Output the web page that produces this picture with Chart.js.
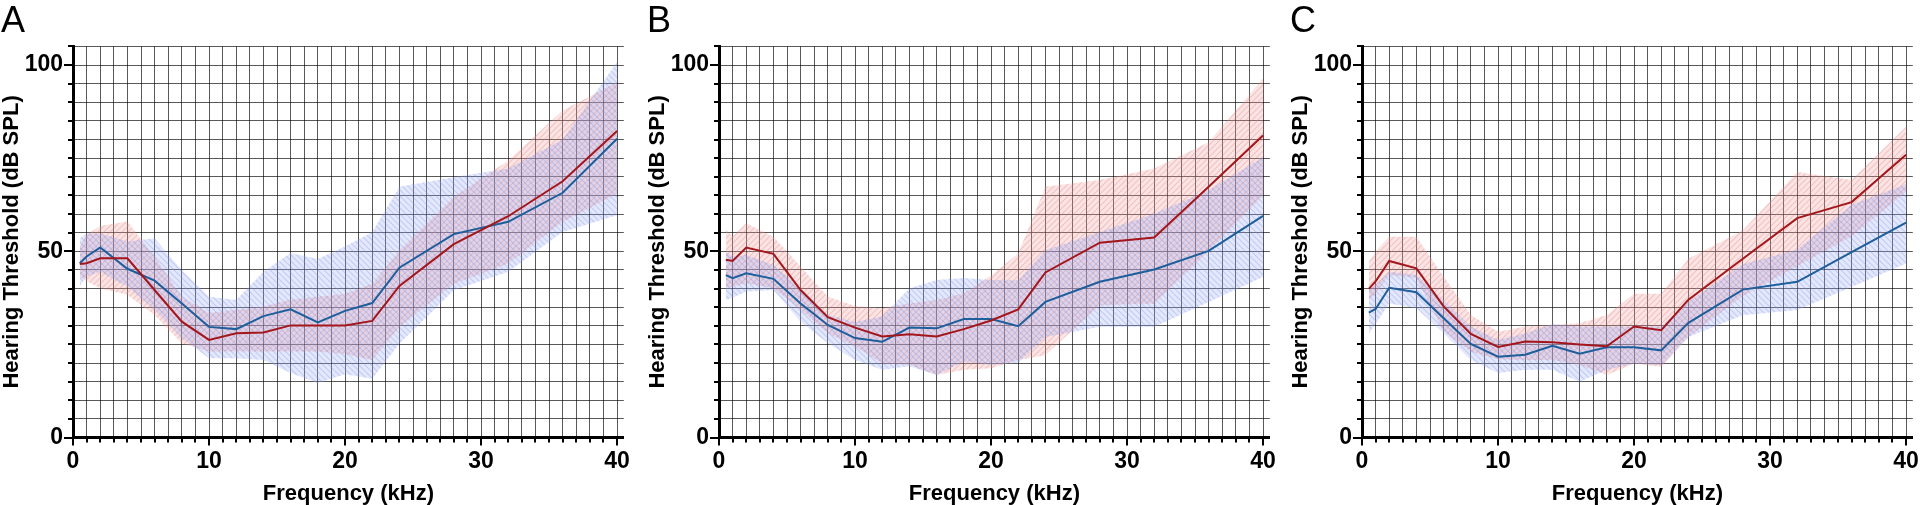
<!DOCTYPE html>
<html>
<head>
<meta charset="utf-8">
<script src="https://cdn.jsdelivr.net/npm/chart.js@4.4.1/dist/chart.umd.min.js"></script>
<style>
  html, body { margin: 0; padding: 0; background: #fff; overflow: hidden; width: 1920px; height: 505px; }
  body { position: relative; }
  canvas { position: absolute; top: 0; }
</style>
</head>
<body>
<canvas id="chartA" width="640" height="505" style="left:0px"></canvas>
<canvas id="chartB" width="640" height="505" style="left:646px"></canvas>
<canvas id="chartC" width="640" height="505" style="left:1289px"></canvas>
<script>
// frequencies (kHz)
const freqs = [0.5, 1, 2, 4, 6, 8, 10, 12, 14, 16, 18, 20, 22, 24, 28, 32, 36, 40];

// panel A
const redMeanA  = [46.6, 46.8, 48.1, 48.1, 39.6, 31.1, 26.2, 28.0, 28.2, 30.1, 30.1, 30.1, 31.3, 40.7, 51.9, 59.4, 68.8, 82.3];
const redHiA    = [51.3, 54.5, 56.8, 58.0, 48.5, 37.8, 33.4, 34.3, 35.2, 37.0, 37.8, 38.5, 41.3, 50.3, 64.6, 74.4, 87.8, 95.4];
const redLoA    = [43.2, 42.0, 40.1, 38.3, 32.9, 25.3, 23.1, 23.1, 23.1, 23.1, 23.1, 22.4, 20.8, 29.7, 41.3, 46.7, 57.9, 65.5];
const blueMeanA = [46.8, 48.6, 51.0, 45.3, 42.1, 36.0, 29.7, 29.1, 32.6, 34.4, 30.9, 34.0, 36.1, 45.6, 54.6, 57.9, 65.7, 80.2];
const blueHiA   = [53.5, 54.8, 54.8, 52.6, 53.5, 45.0, 37.8, 36.9, 44.5, 49.5, 47.9, 51.3, 55.2, 67.3, 69.9, 72.2, 80.0, 100.8];
const blueLoA   = [40.7, 43.2, 44.5, 40.5, 34.3, 26.7, 21.3, 21.3, 20.8, 17.3, 14.6, 17.0, 15.8, 25.2, 39.5, 44.5, 55.2, 59.7];

// panel B
const redMeanB  = [47.7, 47.4, 51.0, 49.3, 39.6, 32.3, 29.5, 27.1, 27.7, 27.1, 29.1, 31.4, 34.4, 44.3, 52.3, 53.7, 67.3, 81.1];
const redHiB    = [55.7, 54.0, 57.5, 53.9, 45.9, 37.8, 35.3, 34.7, 36.0, 36.9, 38.7, 43.5, 49.4, 67.3, 69.1, 72.2, 79.3, 96.3];
const redLoB    = [40.1, 40.5, 41.4, 40.1, 34.3, 28.0, 24.4, 19.9, 19.5, 16.8, 18.2, 18.6, 20.8, 22.1, 35.5, 36.0, 50.0, 65.0];
const blueMeanB = [43.6, 42.8, 44.1, 42.6, 36.0, 30.2, 26.7, 25.7, 29.5, 29.3, 31.8, 31.8, 29.9, 36.4, 41.8, 45.1, 50.1, 59.5];
const blueHiB   = [49.9, 48.5, 49.0, 46.3, 40.1, 32.9, 31.0, 32.5, 40.1, 42.3, 42.8, 42.3, 42.2, 50.3, 55.2, 60.1, 66.4, 75.3];
const blueLoB   = [36.9, 37.5, 39.2, 39.6, 31.1, 25.3, 20.8, 18.2, 19.1, 16.8, 20.4, 19.5, 20.0, 27.0, 29.7, 29.7, 36.4, 43.1];

// panel C
const redMeanC  = [39.9, 41.9, 47.4, 45.4, 35.2, 27.8, 24.3, 25.8, 25.6, 25.0, 24.5, 29.8, 28.8, 37.0, 48.0, 58.9, 63.2, 75.9];
const redHiC    = [47.2, 50.0, 53.9, 53.9, 43.2, 32.9, 28.4, 29.8, 30.2, 30.7, 32.9, 38.6, 38.6, 48.0, 55.6, 71.3, 69.1, 83.4];
const redLoC    = [36.9, 38.5, 43.6, 42.8, 28.5, 23.0, 21.0, 20.8, 20.8, 19.5, 16.8, 19.9, 19.0, 27.0, 38.0, 46.0, 54.0, 66.0];
const blueMeanC = [33.5, 34.5, 40.2, 39.0, 32.0, 25.1, 21.7, 22.2, 24.6, 22.5, 24.2, 24.2, 23.4, 30.8, 39.7, 41.8, 49.8, 57.7];
const blueHiC   = [39.6, 41.0, 44.5, 43.6, 36.9, 29.8, 26.2, 28.0, 30.5, 29.8, 29.8, 29.8, 29.8, 36.5, 46.5, 50.5, 62.5, 68.0];
const blueLoC   = [28.0, 30.5, 36.0, 34.7, 28.0, 20.8, 17.3, 18.2, 18.2, 15.0, 18.2, 19.9, 19.4, 27.0, 32.8, 34.2, 40.4, 46.7];

const yTickLabels = [0, 50, 100];
const xTickLabels = [0, 10, 20, 30, 40];

const RED = '#a3161c';
const BLUE = '#1d5e9b';
const GRID = 'rgba(0,0,0,0.65)';
const FONT = '"Liberation Sans", Arial, sans-serif';

function hatch(bg, line, dir) {
  const c = document.createElement('canvas');
  c.width = 6; c.height = 6;
  const g = c.getContext('2d');
  g.fillStyle = bg;
  g.fillRect(0, 0, 6, 6);
  g.strokeStyle = line;
  g.lineWidth = 1.2;
  g.beginPath();
  if (dir > 0) {
    g.moveTo(-1, 7); g.lineTo(7, -1);
    g.moveTo(-1, 1); g.lineTo(1, -1);
    g.moveTo(5, 7); g.lineTo(7, 5);
  } else {
    g.moveTo(-1, -1); g.lineTo(7, 7);
    g.moveTo(-1, 5); g.lineTo(1, 7);
    g.moveTo(5, -1); g.lineTo(7, 1);
  }
  g.stroke();
  return g.createPattern(c, 'repeat');
}

const pts = arr => freqs.map((f, i) => ({ x: f, y: arr[i] }));

// every kHz on x, every 5 dB on y
const stepTicks = (from, to, step) => {
  const out = [];
  for (let v = from; v <= to; v += step) out.push({ value: v });
  return out;
};

const tickMarks = {
  id: 'tickMarks',
  afterDraw(chart) {
    const { ctx, chartArea, scales } = chart;
    ctx.save();
    ctx.strokeStyle = '#000';
    ctx.lineWidth = 2;
    ctx.beginPath();
    scales.x.ticks.forEach(t => {
      const px = Math.round(scales.x.getPixelForValue(t.value));
      const len = xTickLabels.includes(t.value) ? 8 : 5;
      ctx.moveTo(px, chartArea.bottom);
      ctx.lineTo(px, chartArea.bottom + len);
    });
    scales.y.ticks.forEach(t => {
      const py = Math.round(scales.y.getPixelForValue(t.value));
      const len = yTickLabels.includes(t.value) ? 9 : 5;
      ctx.moveTo(chartArea.left, py);
      ctx.lineTo(chartArea.left - len, py);
    });
    ctx.stroke();
    // panel letter
    ctx.fillStyle = '#000';
    ctx.font = '36px ' + FONT;
    ctx.textBaseline = 'alphabetic';
    ctx.textAlign = 'left';
    ctx.fillText(chart.options.plugins.tickMarks.letter, 1, 32);
    ctx.restore();
  }
};

function makePanel(id, letter, redMean, redHi, redLo, blueMean, blueHi, blueLo) {
  const redFill = hatch('rgba(240,150,150,0.26)', 'rgba(225,115,115,0.3)', 1);
  const blueFill = hatch('rgba(150,165,240,0.26)', 'rgba(115,140,235,0.3)', -1);
  new Chart(document.getElementById(id), {
    type: 'line',
    data: {
      datasets: [
        { data: pts(redMean), borderColor: RED, borderWidth: 2, pointRadius: 0, fill: false, order: 0 },
        { data: pts(blueMean), borderColor: BLUE, borderWidth: 2, pointRadius: 0, fill: false, order: 0 },
        { data: pts(blueHi), borderWidth: 0, pointRadius: 0, backgroundColor: blueFill, fill: '+1', order: 1 },
        { data: pts(blueLo), borderWidth: 0, pointRadius: 0, fill: false, order: 1 },
        { data: pts(redHi), borderWidth: 0, pointRadius: 0, backgroundColor: redFill, fill: '+1', order: 2 },
        { data: pts(redLo), borderWidth: 0, pointRadius: 0, fill: false, order: 2 }
      ]
    },
    options: {
      responsive: false,
      devicePixelRatio: 1,
      animation: false,
      layout: { padding: { top: 46.4, right: 13.8, bottom: 0, left: 0 } },
      plugins: { legend: { display: false }, tooltip: { enabled: false }, tickMarks: { letter: letter } },
      scales: {
        x: {
          type: 'linear', min: 0, max: 40.5,
          afterBuildTicks: s => { s.ticks = stepTicks(0, 40, 1); },
          grid: { color: GRID, lineWidth: 1, drawTicks: false },
          border: { color: '#000', width: 3 },
          ticks: {
            autoSkip: false, maxRotation: 0, padding: 10,
            color: '#000', font: { family: FONT, size: 23, weight: 'bold' },
            callback: v => xTickLabels.includes(v) ? String(v) : ''
          },
          title: {
            display: true, text: 'Frequency (kHz)', color: '#000',
            font: { family: FONT, size: 22, weight: 'bold', lineHeight: 1 },
            padding: { top: 2, bottom: 0 }
          },
          afterFit: s => { s.height = 67.5; }
        },
        y: {
          min: 0, max: 105,
          afterBuildTicks: s => { s.ticks = stepTicks(0, 105, 5); },
          grid: { color: GRID, lineWidth: 1, drawTicks: false },
          border: { color: '#000', width: 3 },
          ticks: {
            autoSkip: false, padding: 10,
            color: '#000', font: { family: FONT, size: 23, weight: 'bold' },
            callback: v => yTickLabels.includes(v) ? String(v) : ''
          },
          title: {
            display: true, text: 'Hearing Threshold (dB SPL)', color: '#000',
            font: { family: FONT, size: 22, weight: 'bold', lineHeight: 1 },
            padding: { top: 1, bottom: 0 }
          },
          afterFit: s => { s.width = 73; }
        }
      }
    },
    plugins: [tickMarks]
  });
}

makePanel('chartA', 'A', redMeanA, redHiA, redLoA, blueMeanA, blueHiA, blueLoA);
makePanel('chartB', 'B', redMeanB, redHiB, redLoB, blueMeanB, blueHiB, blueLoB);
makePanel('chartC', 'C', redMeanC, redHiC, redLoC, blueMeanC, blueHiC, blueLoC);
</script>
</body>
</html>
